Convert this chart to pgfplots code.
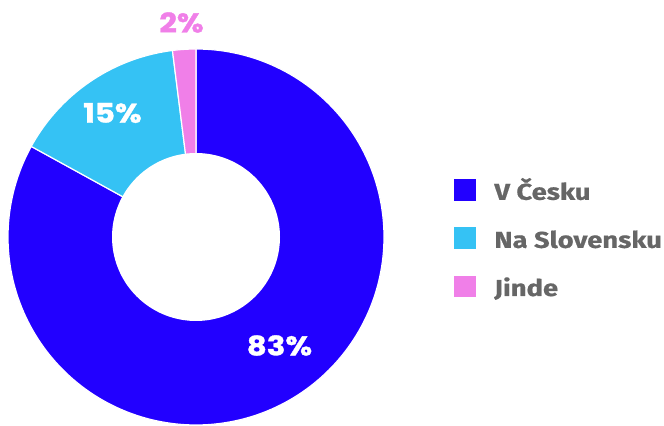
\documentclass[border=0pt]{standalone}
\usepackage{pgfplots}
\pgfplotsset{compat=1.18}
\usepackage{graphicx}
\usepackage{fontspec}
\setmainfont[BoldFeatures={FakeBold=0.6}]{Fira Sans}
\newfontfamily\pop[BoldFeatures={FakeBold=1.2}]{Poppins}
\definecolor{cz}{HTML}{2200FF}
\definecolor{sk}{HTML}{35C2F4}
\definecolor{jn}{HTML}{F07FE8}
\definecolor{lg}{HTML}{666666}
\newcommand\lbl[1]{\scalebox{1.14}[1]{\pop\bfseries\fontsize{27}{27}\selectfont #1}}
\newcommand\lgt[1]{\scalebox{1.19}[1]{#1}}
\begin{document}
\begin{tikzpicture}
\def\vCZ{83}\def\vSK{15}\def\vJ{2}
\pgfmathsetmacro\aA{90}
\pgfmathsetmacro\aB{90-3.6*\vCZ}
\pgfmathsetmacro\aC{\aB-3.6*\vSK}
\pgfmathsetmacro\aD{\aC-3.6*\vJ}
\begin{axis}[scale only axis, width=664pt, height=425pt,
  xmin=0, xmax=664, ymin=0, ymax=425, ticks=none, axis line style={draw=none}, clip=false,
  legend style={draw=none, fill=none, at={(axis cs:453,247)}, anchor=north west,
    inner sep=0pt, column sep=17pt, row sep=21.5pt,
    font=\bfseries\fontsize{23}{26}\selectfont, text=lg,
    nodes={inner sep=0pt, text height=17pt, text depth=5pt}},
  legend cell align=left,
  legend image code/.code={\fill[#1] (0pt,-8pt) rectangle (23pt,15pt);},
]
\addplot[fill=cz, draw=white, line width=1.2pt, domain=\aB:\aA, samples=200, variable=\t]
  ({196+188*cos(\t)},{188+188*sin(\t)}) -- (axis cs:196,188) -- cycle;
\addlegendentry{\lgt{V Česku}}
\addplot[fill=sk, draw=white, line width=1.2pt, domain=\aC:\aB, samples=60, variable=\t]
  ({196+188*cos(\t)},{188+188*sin(\t)}) -- (axis cs:196,188) -- cycle;
\addlegendentry{\lgt{Na Slovensku}}
\addplot[fill=jn, draw=white, line width=1.2pt, domain=\aD:\aC, samples=20, variable=\t]
  ({196+188*cos(\t)},{188+188*sin(\t)}) -- (axis cs:196,188) -- cycle;
\addlegendentry{\lgt{Jinde}}
\addplot[fill=white, draw=none, domain=0:360, samples=150, variable=\t, forget plot]
  ({196+84*cos(\t)},{188+84*sin(\t)}) -- cycle;
\node[text=white, inner sep=0pt] at (axis cs:279.5,79.5) {\lbl{83\%}};
\node[text=white, inner sep=0pt] at (axis cs:112.5,312) {\lbl{15\%}};
\node[text=jn, inner sep=0pt] at (axis cs:181.5,402.5) {\lbl{2\%}};
\end{axis}
\end{tikzpicture}
\end{document}
